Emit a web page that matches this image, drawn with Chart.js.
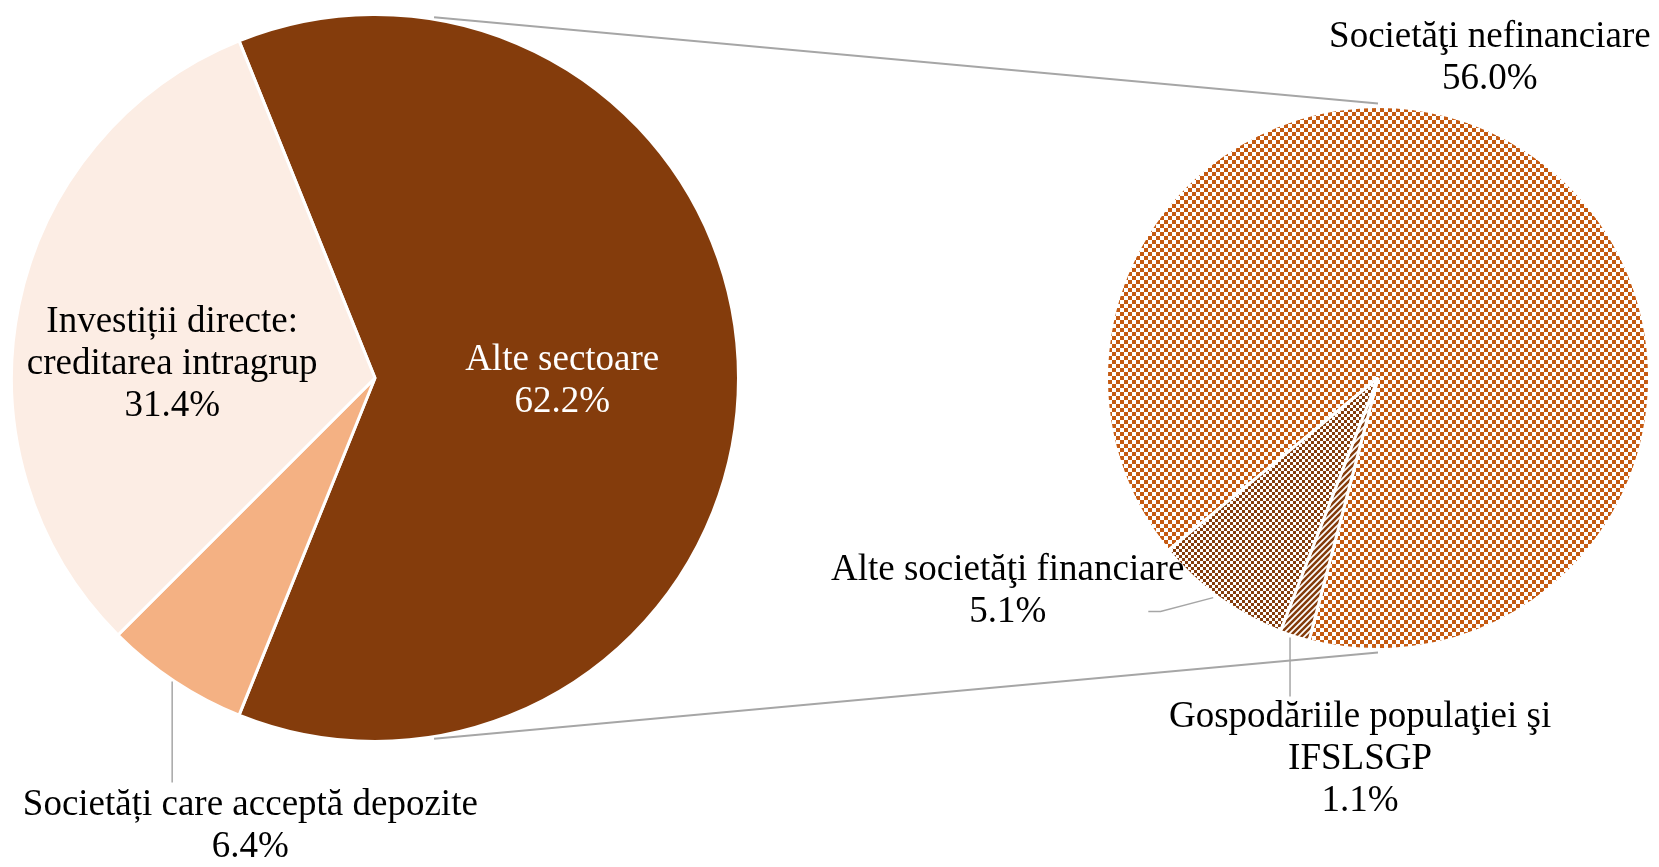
<!DOCTYPE html>
<html>
<head>
<meta charset="utf-8">
<title>Pie of pie</title>
<script src="https://cdn.jsdelivr.net/npm/chart.js"></script>
<style>
  html, body { margin: 0; padding: 0; background: #fff; overflow: hidden; }
  #wrap { position: relative; width: 1659px; height: 867px; }
  canvas { position: absolute; left: 0; top: 0; }
</style>
</head>
<body>
<div id="wrap">
  <canvas id="mainPie" width="1659" height="867"></canvas>
  <canvas id="subPie" width="1659" height="867"></canvas>
</div>
<script>
// Data
const mainLabels = ['Alte sectoare', 'Societăți care acceptă depozite', 'Investiții directe:\ncreditarea intragrup'];
const mainValues = [62.2, 6.4, 31.4];
const subLabels = ['Societăţi nefinanciare', 'Gospodăriile populaţiei şi\nIFSLSGP', 'Alte societăţi financiare'];
const subValues = [56.0, 1.1, 5.1];

const FONT = '37px "Liberation Serif", "Times New Roman", serif';
const LINE_H = 42;
const GREY = '#a6a6a6';

// fill patterns for the second pie
function makePattern(size, draw) {
  const c = document.createElement('canvas');
  c.width = size; c.height = size;
  const g = c.getContext('2d');
  g.fillStyle = '#fff';
  g.fillRect(0, 0, size, size);
  draw(g);
  return g.createPattern(c, 'repeat');
}
const checkerBig = makePattern(8, g => {
  g.fillStyle = '#c55a11';
  g.fillRect(0, 0, 4, 4);
  g.fillRect(4, 4, 4, 4);
});
const checkerSmall = makePattern(6, g => {
  g.fillStyle = '#843c0c';
  g.fillRect(0, 0, 3, 3);
  g.fillRect(3, 3, 3, 3);
});
const stripes = makePattern(6, g => {
  g.strokeStyle = '#843c0c';
  g.lineWidth = 2.5;
  g.beginPath();
  g.moveTo(-1, 7); g.lineTo(7, -1);
  g.moveTo(-1, 1); g.lineTo(1, -1);
  g.moveTo(5, 7); g.lineTo(7, 5);
  g.stroke();
});

// draws the slice labels and their leader lines, positions are in units of the pie radius
const sliceLabels = {
  id: 'sliceLabels',
  afterDraw(chart, args, opts) {
    const ctx = chart.ctx;
    const arc = chart.getDatasetMeta(0).data[0];
    const cx = arc.x, cy = arc.y, r = arc.outerRadius;
    const labels = chart.data.labels;
    const values = chart.data.datasets[0].data;
    ctx.save();
    opts.items.forEach((it, i) => {
      if (it.leader) {
        ctx.strokeStyle = GREY;
        ctx.lineWidth = 1.5;
        ctx.beginPath();
        it.leader.forEach((p, k) => {
          const px = cx + p[0] * r, py = cy + p[1] * r;
          if (k === 0) ctx.moveTo(px, py); else ctx.lineTo(px, py);
        });
        ctx.stroke();
      }
      const lines = labels[i].split('\n').concat([values[i].toFixed(1) + '%']);
      ctx.font = FONT;
      ctx.fillStyle = it.color || '#000';
      ctx.textAlign = 'center';
      ctx.textBaseline = 'middle';
      const x = cx + it.at[0] * r;
      const y0 = cy + it.at[1] * r - (lines.length - 1) * LINE_H / 2;
      lines.forEach((t, k) => ctx.fillText(t, x, y0 + k * LINE_H));
    });
    ctx.restore();
  }
};

const mainChart = new Chart(document.getElementById('mainPie'), {
  type: 'pie',
  data: {
    labels: mainLabels,
    datasets: [{
      data: mainValues,
      backgroundColor: ['#843c0c', '#f4b183', '#fcede4'],
      borderColor: '#fff',
      borderWidth: 3
    }]
  },
  options: {
    responsive: false,
    animation: false,
    rotation: 90 - mainValues[0] * 3.6 / 2,
    layout: { padding: { left: 10, right: 919, top: 13, bottom: 124 } },
    plugins: {
      legend: { display: false },
      tooltip: { enabled: false },
      sliceLabels: {
        items: [
          { at: [0.515, 0.01], color: '#fff' },
          { at: [-0.343, 1.234], leader: [[-0.558, 0.835], [-0.558, 1.113]] },
          { at: [-0.558, -0.038] }
        ]
      }
    }
  },
  plugins: [sliceLabels]
});

// connector lines between the two pies
const connectors = {
  id: 'connectors',
  afterDraw(chart) {
    const a = mainChart.getDatasetMeta(0).data[0];
    const b = chart.getDatasetMeta(0).data[0];
    const th = 9.3 * Math.PI / 180;
    const R = a.outerRadius + 2, r = b.outerRadius + 3;
    const ctx = chart.ctx;
    ctx.save();
    ctx.strokeStyle = GREY;
    ctx.lineWidth = 2;
    ctx.beginPath();
    ctx.moveTo(a.x + R * Math.sin(th), a.y - R * Math.cos(th));
    ctx.lineTo(b.x, b.y - r);
    ctx.moveTo(a.x + R * Math.sin(th), a.y + R * Math.cos(th));
    ctx.lineTo(b.x, b.y + r);
    ctx.stroke();
    ctx.restore();
  }
};

new Chart(document.getElementById('subPie'), {
  type: 'pie',
  data: {
    labels: subLabels,
    datasets: [{
      data: subValues,
      backgroundColor: [checkerBig, stripes, checkerSmall],
      borderColor: '#fff',
      borderWidth: 3
    }]
  },
  options: {
    responsive: false,
    animation: false,
    rotation: 230.6,
    layout: { padding: { left: 1105, right: 8, top: 105, bottom: 216 } },
    plugins: {
      legend: { display: false },
      tooltip: { enabled: false },
      sliceLabels: {
        items: [
          { at: [0.412, -1.176] },
          { at: [-0.066, 1.404], leader: [[-0.324, 0.956], [-0.324, 1.173]] },
          { at: [-1.364, 0.787], leader: [[-0.607, 0.809], [-0.801, 0.86], [-0.846, 0.86]] }
        ]
      }
    }
  },
  plugins: [connectors, sliceLabels]
});
</script>
</body>
</html>
